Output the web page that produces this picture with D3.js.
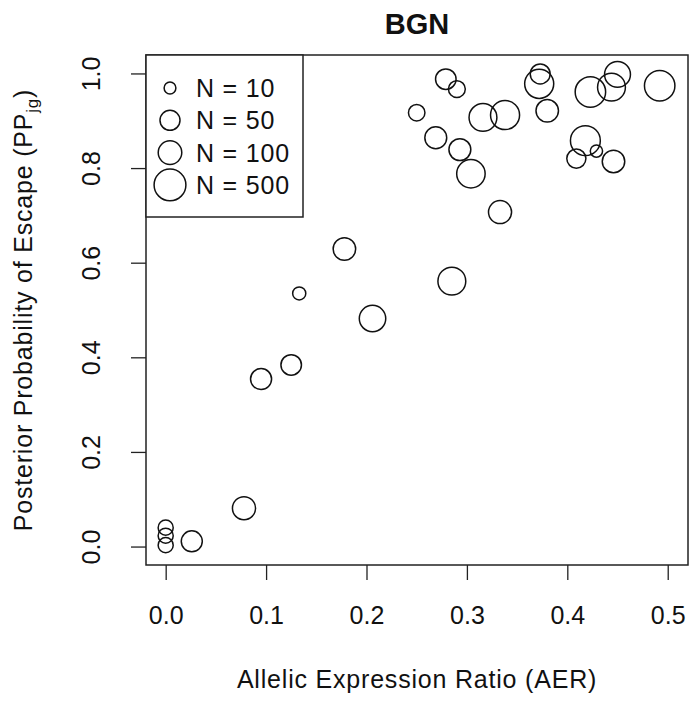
<!DOCTYPE html>
<html>
<head>
<meta charset="utf-8">
<script src="https://cdn.jsdelivr.net/npm/d3@7"></script>
<style>
  body { margin: 0; background: #fff; }
  svg { display: block; font-family: "Liberation Sans", Arial, sans-serif; }
</style>
</head>
<body>
<div id="chart"></div>
<script>
// values
const aer = [0.279, 0.290, 0.250, 0.269, 0.316, 0.338, 0.293, 0.304, 0.333, 0.373,
  0.372, 0.380, 0.423, 0.444, 0.450, 0.492, 0.418, 0.409, 0.429, 0.446,
  0.178, 0.133, 0.206, 0.125, 0.095, 0.078, 0.026, 0.0, 0.0, 0.0, 0.285];
const ppEscape = [0.988, 0.967, 0.917, 0.864, 0.907, 0.912, 0.839, 0.788, 0.707, 0.999,
  0.978, 0.921, 0.961, 0.971, 0.998, 0.974, 0.858, 0.820, 0.836, 0.814,
  0.629, 0.535, 0.482, 0.384, 0.354, 0.081, 0.011, 0.040, 0.023, 0.003, 0.561];
const nReads = [55, 27, 25, 72, 231, 292, 72, 260, 91, 49,
  292, 81, 384, 231, 157, 384, 342, 42, 11, 81,
  81, 13, 176, 55, 61, 91, 61, 19, 19, 19, 231];

const xTicks = [0, 0.1, 0.2, 0.3, 0.4, 0.5];
const yTicks = [0, 0.2, 0.4, 0.6, 0.8, 1.0];
const legendN = [10, 50, 100, 500];

const width = 699, height = 703;
const box = { left: 146, right: 688, top: 55, bottom: 565 };

const svg = d3.select('#chart').append('svg')
  .attr('width', width)
  .attr('height', height);

const x = d3.scaleLinear().domain([-0.0196, 0.5202]).range([box.left, box.right]);
const y = d3.scaleLinear().domain([-0.039, 1.039]).range([box.bottom, box.top]);
// symbol size grows with log10 of N
const r = d3.scaleLog().domain([1, 500]).range([0, 15.9]);

const points = aer.map((d, i) => ({ x: d, y: ppEscape[i], n: nReads[i] }));

// x axis
const xAxis = svg.append('g')
  .attr('transform', 'translate(0,' + box.bottom + ')')
  .call(d3.axisBottom(x).tickValues(xTicks).tickSize(15).tickSizeOuter(0).tickFormat(d3.format('.1f')));
xAxis.select('.domain').attr('stroke', 'none');
xAxis.selectAll('line').attr('stroke', '#222').attr('stroke-width', 1.3);
xAxis.selectAll('text')
  .attr('y', 0)
  .attr('dy', null)
  .attr('transform', 'translate(0,59)')
  .style('font-size', '25px')
  .attr('fill', '#111');

// y axis, labels turned like R's default
const yAxis = svg.append('g')
  .attr('transform', 'translate(' + box.left + ',0)')
  .call(d3.axisLeft(y).tickValues(yTicks).tickSize(15).tickSizeOuter(0).tickFormat(d3.format('.1f')));
yAxis.select('.domain').attr('stroke', 'none');
yAxis.selectAll('line').attr('stroke', '#222').attr('stroke-width', 1.3);
yAxis.selectAll('text')
  .attr('x', 0)
  .attr('dy', null)
  .attr('text-anchor', 'middle')
  .attr('transform', 'translate(-46,0) rotate(-90)')
  .style('font-size', '25px')
  .attr('fill', '#111');

// plot frame
svg.append('rect')
  .attr('x', box.left)
  .attr('y', box.top)
  .attr('width', box.right - box.left)
  .attr('height', box.bottom - box.top)
  .attr('fill', 'none')
  .attr('stroke', '#222')
  .attr('stroke-width', 1.5);

// points
svg.append('g')
  .selectAll('circle')
  .data(points)
  .join('circle')
  .attr('cx', d => x(d.x))
  .attr('cy', d => y(d.y))
  .attr('r', d => r(d.n))
  .attr('fill', 'none')
  .attr('stroke', '#111')
  .attr('stroke-width', 1.5);

// legend
const legend = svg.append('g');
legend.append('rect')
  .attr('x', box.left)
  .attr('y', box.top)
  .attr('width', 157)
  .attr('height', 162)
  .attr('fill', '#fff')
  .attr('stroke', '#222')
  .attr('stroke-width', 1.5);

const rows = legend.selectAll('g.row')
  .data(legendN)
  .join('g')
  .attr('class', 'row')
  .attr('transform', (d, i) => 'translate(170,' + (88 + i * 32.3) + ')');
rows.append('circle')
  .attr('r', d => r(d))
  .attr('fill', 'none')
  .attr('stroke', '#111')
  .attr('stroke-width', 1.5);
rows.append('text')
  .attr('x', 26)
  .attr('y', 9)
  .style('font-size', '25px')
  .style('letter-spacing', '0.8px')
  .attr('fill', '#111')
  .text(d => 'N = ' + d);

// titles
svg.append('text')
  .attr('x', (box.left + box.right) / 2)
  .attr('y', 34)
  .attr('text-anchor', 'middle')
  .style('font-size', '29px')
  .style('font-weight', 'bold')
  .attr('fill', '#111')
  .text('BGN');

svg.append('text')
  .attr('x', (box.left + box.right) / 2)
  .attr('y', 688)
  .attr('text-anchor', 'middle')
  .style('font-size', '25px')
  .style('letter-spacing', '0.8px')
  .attr('fill', '#111')
  .text('Allelic Expression Ratio (AER)');

const yTitle = svg.append('text')
  .attr('transform', 'translate(32,' + ((box.top + box.bottom) / 2) + ') rotate(-90)')
  .attr('text-anchor', 'middle')
  .style('font-size', '25px')
  .style('letter-spacing', '0.8px')
  .attr('fill', '#111');
yTitle.append('tspan').text('Posterior Probability of Escape (PP');
yTitle.append('tspan').attr('dy', 6).style('font-size', '17px').text('jg');
yTitle.append('tspan').attr('dy', -6).text(')');
</script>
</body>
</html>
